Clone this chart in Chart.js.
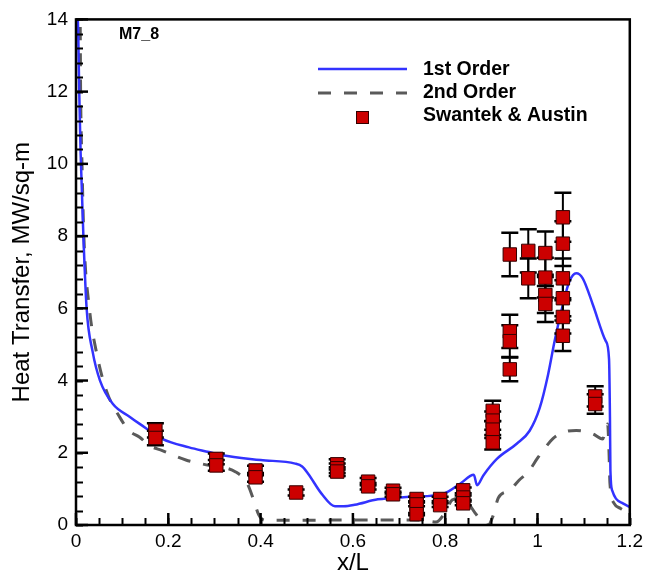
<!DOCTYPE html>
<html>
<head>
<meta charset="utf-8">
<script src="https://cdn.jsdelivr.net/npm/chart.js@4"></script>
<style>
  html, body { margin: 0; padding: 0; background: #fff; }
  canvas { display: block; }
</style>
</head>
<body>
<canvas id="myChart" width="648" height="573"></canvas>
<script>
// 1st order solution (blue solid)
const firstX = [0.003, 0.005, 0.007, 0.010, 0.016, 0.023, 0.036, 0.052, 0.080, 0.116, 0.138, 0.188, 0.245, 0.288, 0.317, 0.40, 0.475, 0.49, 0.503, 0.532, 0.561, 0.58, 0.604, 0.654, 0.725, 0.797, 0.833, 0.862, 0.869, 0.883, 0.912, 0.955, 0.983, 1.005, 1.023, 1.037, 1.055, 1.069, 1.084, 1.098, 1.12, 1.148, 1.155, 1.157, 1.158, 1.162, 1.17, 1.185, 1.2];
const firstY = [14.5, 13.5, 12.0, 10.3, 8.0, 6.0, 4.8, 4.0, 3.35, 3.0, 2.8, 2.38, 2.15, 2.02, 1.93, 1.8, 1.70, 1.62, 1.42, 0.87, 0.52, 0.52, 0.56, 0.71, 0.78, 0.87, 1.15, 1.39, 1.10, 1.38, 1.83, 2.25, 2.61, 3.25, 4.17, 5.09, 6.10, 6.74, 6.97, 6.83, 6.10, 5.09, 4.6, 3.0, 1.5, 0.95, 0.73, 0.6, 0.5];

// 2nd order solution (gray dashed)
const secondX = [0.006, 0.009, 0.010, 0.013, 0.017, 0.029, 0.044, 0.066, 0.095, 0.116, 0.138, 0.159, 0.187, 0.238, 0.288, 0.346, 0.371, 0.385, 0.396, 0.41, 0.5, 0.6, 0.69, 0.75, 0.78, 0.80, 0.815, 0.835, 0.85, 0.865, 0.877, 0.893, 0.905, 0.915, 0.94, 0.96, 0.98, 1.0, 1.012, 1.034, 1.06, 1.084, 1.12, 1.141, 1.152, 1.155, 1.157, 1.166, 1.18, 1.188];
const secondY = [14.5, 14.0, 12.0, 10.0, 8.0, 6.0, 4.8, 3.71, 2.98, 2.6, 2.43, 2.2, 2.06, 1.8, 1.65, 1.47, 1.15, 0.69, 0.28, 0.13, 0.13, 0.14, 0.14, 0.13, 0.08, 0.35, 0.69, 0.75, 0.6, 0.33, 0.14, 0.0, 0.3, 0.75, 0.96, 1.24, 1.47, 1.85, 2.06, 2.4, 2.58, 2.62, 2.52, 2.38, 2.8, 2.0, 1.15, 0.6, 0.46, 0.4];

// Swantek & Austin measurements
const expX = [0.172, 0.172, 0.304, 0.304, 0.389, 0.389, 0.477, 0.566, 0.566, 0.566, 0.633, 0.633, 0.687, 0.687, 0.738, 0.738, 0.738, 0.789, 0.789, 0.839, 0.839, 0.839, 0.903, 0.903, 0.903, 0.903, 0.94, 0.94, 0.94, 0.94, 0.98, 0.98, 1.017, 1.017, 1.017, 1.017, 1.055, 1.055, 1.055, 1.055, 1.055, 1.055, 1.125, 1.125];
const expY = [2.62, 2.41, 1.83, 1.65, 1.51, 1.32, 0.9, 1.68, 1.57, 1.48, 1.2, 1.07, 0.95, 0.85, 0.72, 0.57, 0.3, 0.72, 0.55, 0.96, 0.76, 0.6, 3.16, 2.89, 2.64, 2.29, 7.49, 5.36, 5.09, 4.31, 7.59, 6.83, 7.53, 6.85, 6.37, 6.12, 8.52, 7.79, 6.83, 6.28, 5.76, 5.24, 3.56, 3.35];
const expErr = [0.2, 0.2, 0.15, 0.15, 0.13, 0.12, 0.08, 0.14, 0.13, 0.12, 0.1, 0.09, 0.08, 0.07, 0.06, 0.05, 0.03, 0.06, 0.05, 0.08, 0.06, 0.05, 0.28, 0.25, 0.23, 0.2, 0.6, 0.46, 0.44, 0.33, 0.6, 0.55, 0.6, 0.55, 0.5, 0.5, 0.68, 0.62, 0.55, 0.5, 0.46, 0.42, 0.28, 0.27];

const xTicks = [0, 0.2, 0.4, 0.6, 0.8, 1, 1.2];
const yTicks = [0, 2, 4, 6, 8, 10, 12, 14];

const FONT = '"Liberation Sans", Arial, Helvetica, sans-serif';
const BLUE = '#3333ff';
const GRAY = '#5a5a5a';
const RED = '#cc0000';

function pts(xs, ys) {
    return xs.map((x, i) => ({ x: x, y: ys[i] }));
}

// error bars, drawn just before the square markers
const errorBars = {
    id: 'errorBars',
    beforeDatasetDraw(chart, args) {
        if (args.index !== 0) return;
        const { ctx, scales: { x, y } } = chart;
        ctx.save();
        ctx.strokeStyle = '#000';
        expX.forEach((xv, i) => {
            const px = x.getPixelForValue(xv);
            const top = y.getPixelForValue(expY[i] + expErr[i]);
            const bot = y.getPixelForValue(expY[i] - expErr[i]);
            ctx.lineWidth = 2;
            ctx.beginPath();
            ctx.moveTo(px, top);
            ctx.lineTo(px, bot);
            ctx.stroke();
            ctx.lineWidth = 2.5;
            ctx.beginPath();
            ctx.moveTo(px - 8.5, top);
            ctx.lineTo(px + 8.5, top);
            ctx.moveTo(px - 8.5, bot);
            ctx.lineTo(px + 8.5, bot);
            ctx.stroke();
        });
        ctx.restore();
    }
};

// frame, inward ticks, legend and case label
const decorations = {
    id: 'decorations',
    afterDraw(chart) {
        const { ctx, chartArea: a, scales: { x, y } } = chart;
        ctx.save();
        ctx.strokeStyle = '#000';
        ctx.lineWidth = 2;

        // minor / major ticks on left axis
        for (let v = 0; v <= 14.001; v += 0.4) {
            const py = Math.round(y.getPixelForValue(v)) + 0.5;
            ctx.beginPath();
            ctx.moveTo(a.left, py);
            ctx.lineTo(a.left + 7, py);
            ctx.stroke();
        }
        yTicks.forEach(v => {
            const py = y.getPixelForValue(v);
            ctx.lineWidth = 2.5;
            ctx.beginPath();
            ctx.moveTo(a.left, py);
            ctx.lineTo(a.left + 12, py);
            ctx.stroke();
        });
        // bottom axis
        ctx.lineWidth = 2;
        for (let v = 0; v <= 1.2001; v += 0.05) {
            const px = Math.round(x.getPixelForValue(v)) + 0.5;
            ctx.beginPath();
            ctx.moveTo(px, a.bottom);
            ctx.lineTo(px, a.bottom - 7);
            ctx.stroke();
        }
        xTicks.forEach(v => {
            const px = x.getPixelForValue(v);
            ctx.lineWidth = 2.5;
            ctx.beginPath();
            ctx.moveTo(px, a.bottom);
            ctx.lineTo(px, a.bottom - 12);
            ctx.stroke();
        });

        // frame
        ctx.lineWidth = 2.5;
        ctx.strokeRect(a.left, a.top, a.right - a.left, a.bottom - a.top);

        // legend
        ctx.lineWidth = 2.5;
        ctx.strokeStyle = BLUE;
        ctx.beginPath();
        ctx.moveTo(318, 69);
        ctx.lineTo(407, 69);
        ctx.stroke();
        ctx.strokeStyle = GRAY;
        ctx.lineWidth = 3;
        ctx.setLineDash([13, 13]);
        ctx.beginPath();
        ctx.moveTo(318, 93);
        ctx.lineTo(407, 93);
        ctx.stroke();
        ctx.setLineDash([]);
        ctx.fillStyle = RED;
        ctx.fillRect(356, 111, 13, 13);
        ctx.strokeStyle = '#300';
        ctx.lineWidth = 1;
        ctx.strokeRect(356.5, 111.5, 12, 12);

        ctx.fillStyle = '#000';
        ctx.font = 'bold 19.5px ' + FONT;
        ctx.textBaseline = 'middle';
        ctx.textAlign = 'left';
        ctx.fillText('1st Order', 423, 70);
        ctx.fillText('2nd Order', 423, 93);
        ctx.fillText('Swantek & Austin', 423, 116);

        ctx.font = 'bold 16px ' + FONT;
        ctx.fillText('M7_8', 119, 35);
        ctx.restore();
    }
};

const ctx = document.getElementById('myChart').getContext('2d');
const myChart = new Chart(ctx, {
    data: {
        datasets: [{
            type: 'scatter',
            label: 'Swantek & Austin',
            data: pts(expX, expY),
            pointStyle: 'rect',
            pointRadius: 9.5,
            backgroundColor: RED,
            borderColor: '#300',
            borderWidth: 1,
            order: 0
        }, {
            type: 'line',
            label: '1st Order',
            data: pts(firstX, firstY),
            borderColor: BLUE,
            borderWidth: 2.5,
            pointRadius: 0,
            cubicInterpolationMode: 'monotone',
            fill: false,
            order: 1
        }, {
            type: 'line',
            label: '2nd Order',
            data: pts(secondX, secondY),
            borderColor: GRAY,
            borderWidth: 3,
            borderDash: [13, 13],
            pointRadius: 0,
            cubicInterpolationMode: 'monotone',
            fill: false,
            order: 2
        }]
    },
    options: {
        responsive: false,
        animation: false,
        devicePixelRatio: 1,
        layout: { padding: { left: 0, top: 16, right: 14, bottom: 0 } },
        plugins: {
            legend: { display: false },
            tooltip: { enabled: false }
        },
        scales: {
            x: {
                type: 'linear',
                min: 0,
                max: 1.2,
                grid: { display: false, drawTicks: false, tickLength: 0 },
                border: { display: false },
                ticks: {
                    stepSize: 0.2,
                    padding: 5,
                    color: '#000',
                    font: { family: FONT, size: 19 },
                    callback: v => String(+v.toFixed(1))
                },
                title: {
                    display: true,
                    text: 'x/L',
                    color: '#000',
                    font: { family: FONT, size: 24, lineHeight: 0.8 },
                    padding: { top: 0, bottom: 0 }
                },
                afterFit: s => { s.height = 48; }
            },
            y: {
                type: 'linear',
                min: 0,
                max: 14,
                grid: { display: false, drawTicks: false, tickLength: 0 },
                border: { display: false },
                ticks: {
                    stepSize: 2,
                    padding: 8,
                    color: '#000',
                    font: { family: FONT, size: 19 }
                },
                title: {
                    display: true,
                    text: 'Heat Transfer, MW/sq-m',
                    color: '#000',
                    font: { family: FONT, size: 24, lineHeight: 1 },
                    padding: { top: 10, bottom: 0 }
                },
                afterFit: s => { s.width = 76; }
            }
        }
    },
    plugins: [errorBars, decorations]
});
</script>
</body>
</html>
